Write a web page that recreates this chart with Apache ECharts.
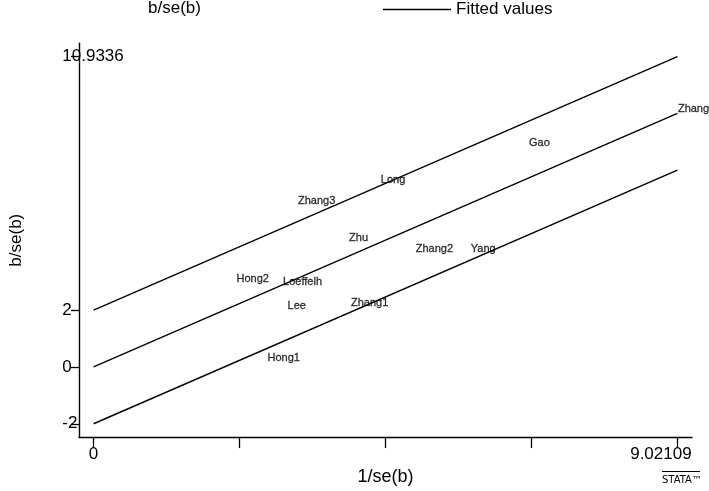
<!DOCTYPE html>
<html>
<head>
<meta charset="utf-8">
<script src="https://cdn.jsdelivr.net/npm/echarts@6/dist/echarts.min.js"></script>
<style>
html,body{margin:0;padding:0;background:#fff;}
#chart{width:709px;height:491px;}
</style>
</head>
<body>
<div id="chart"></div>
<script>
// ---- data ----
const studyNames = ['Zhang','Gao','Long','Zhang3','Zhu','Zhang2','Yang','Hong2','Loeffelh','Lee','Zhang1','Hong1'];
const precision = [9.02109, 6.72, 4.43, 3.15, 3.94, 4.97, 5.82, 2.20, 2.92, 2.99, 3.97, 2.68];
const zScores   = [9.10, 7.89, 6.58, 5.86, 4.54, 4.17, 4.17, 3.11, 2.99, 2.15, 2.24, 0.31];
const fitX = [0, 9.02109];
const fitY = [0, 8.9336];
const bandOffsets = [2, -2];
const yTickValues = [-2, 0, 2, 10.9336];
const yTickLabels = ['-2', '0', '2', '10.9336'];
const xTickValues = [0, 2.255273, 4.510545, 6.765818, 9.02109];
const xLabelValues = [0, 9.02109];
const xLabelTexts = ['0', '9.02109'];

const FONT = '"Liberation Sans", Arial, Helvetica, sans-serif';
const chart = echarts.init(document.getElementById('chart'), null, {renderer: 'canvas'});

const pts = studyNames.map((n, i) => ({name: n, value: [precision[i], zScores[i]]}));
const fitLine = fitX.map((x, i) => [x, fitY[i]]);
const bandLine = off => fitX.map((x, i) => [x, fitY[i] + off]);

const lineStyle = {color: '#000', width: 1.4};

chart.setOption({
  animation: false,
  backgroundColor: '#fff',
  textStyle: {fontFamily: FONT, color: '#000'},
  legend: [
    {
      data: [{name: 'b/se(b)', icon: 'rect', itemStyle: {color: 'rgba(0,0,0,0)'}}],
      left: 75, top: 0, padding: 0, itemWidth: 68, itemHeight: 14,
      selectedMode: false, textStyle: {fontSize: 17, color: '#000', fontFamily: FONT}
    },
    {
      data: [{name: 'Fitted values', icon: 'rect', itemStyle: {color: '#000'}}],
      left: 383, top: 1, padding: 0, itemWidth: 68, itemHeight: 1.4, itemGap: 5,
      selectedMode: false, textStyle: {fontSize: 17, color: '#000', fontFamily: FONT}
    }
  ],
  grid: {left: 75.7, right: 17, top: 43.3, bottom: 51.7, containLabel: false},
  xAxis: {
    type: 'value', min: -0.2255, max: 9.2466,
    name: '1/se(b)', nameLocation: 'middle', nameGap: 26,
    nameTextStyle: {fontSize: 18, color: '#000', fontFamily: FONT},
    axisLine: {show: true, onZero: false, lineStyle: {color: '#000', width: 1.4}},
    axisTick: {show: true, length: 11, customValues: xTickValues, lineStyle: {color: '#000', width: 1.3}},
    axisLabel: {
      show: true, margin: 9, fontSize: 17, color: '#000', fontFamily: FONT,
      customValues: xLabelValues,
      formatter: v => {
        const i = xLabelValues.findIndex(x => Math.abs(x - v) < 1e-6);
        const t = i >= 0 ? xLabelTexts[i] : '';
        return i === xLabelValues.length - 1 ? '{r|' + t + '}' : t;
      },
      rich: {r: {fontSize: 17, color: '#000', fontFamily: FONT, padding: [0, 33, 0, 0]}}
    },
    splitLine: {show: false}
  },
  yAxis: {
    type: 'value', min: -2.47, max: 11.4,
    name: 'b/se(b)', nameLocation: 'middle', nameGap: 54,
    nameTextStyle: {fontSize: 17, color: '#000', fontFamily: FONT},
    axisLine: {show: true, onZero: false, lineStyle: {color: '#000', width: 1.4}},
    axisTick: {show: true, length: 8, customValues: yTickValues, lineStyle: {color: '#000', width: 1.3}},
    axisLabel: {
      show: true, margin: 16.7, align: 'left', fontSize: 17, color: '#000', fontFamily: FONT,
      customValues: yTickValues,
      formatter: v => {
        const i = yTickValues.findIndex(y => Math.abs(y - v) < 1e-6);
        return i >= 0 ? yTickLabels[i] : '';
      }
    },
    splitLine: {show: false}
  },
  series: [
    {
      name: 'b/se(b)', type: 'scatter', data: pts, symbolSize: 1,
      itemStyle: {color: 'rgba(0,0,0,0)'},
      label: {
        show: true, position: 'right', distance: 0, formatter: p => p.name,
        fontSize: 11, color: '#000', fontFamily: FONT,
        textBorderColor: '#000', textBorderWidth: 0.3
      },
      z: 5
    },
    {
      name: 'Fitted values', type: 'line', data: fitLine, symbol: 'none',
      lineStyle: lineStyle, itemStyle: {color: '#000'}
    },
    {
      name: 'upper', type: 'line', data: bandLine(bandOffsets[0]), symbol: 'none',
      lineStyle: lineStyle, itemStyle: {color: '#000'}
    },
    {
      name: 'lower', type: 'line', data: bandLine(bandOffsets[1]), symbol: 'none',
      lineStyle: lineStyle, itemStyle: {color: '#000'}
    }
  ],
  graphic: [
    {type: 'line', shape: {x1: 662, y1: 471.5, x2: 700, y2: 471.5}, style: {stroke: '#000', lineWidth: 1}},
    {type: 'text', left: 662, top: 475, style: {text: 'STATA™', fontSize: 10, fontFamily: '"DejaVu Sans", sans-serif', fill: '#000'}}
  ]
});
</script>
</body>
</html>
